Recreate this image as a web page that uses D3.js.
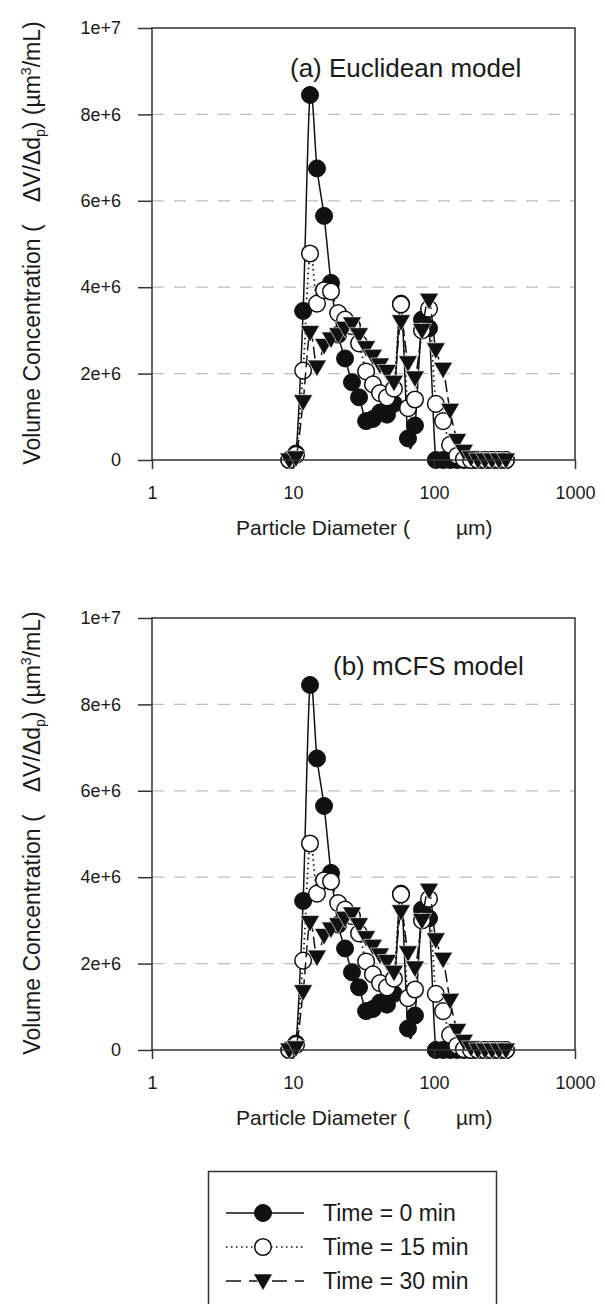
<!DOCTYPE html>
<html><head><meta charset="utf-8">
<script src="https://cdn.jsdelivr.net/npm/d3@7"></script>
<style>
body{margin:0;background:#fff}
svg{display:block}
text{font-family:"Liberation Sans",Arial,Helvetica,sans-serif;fill:#1a1a1a}
</style>
</head><body>
<svg id="c" width="605" height="1304"></svg>
<script>
// Particle diameter bins (µm)
const diameters = [9.4, 10.5, 11.8, 13.2, 14.8, 16.6, 18.6, 20.9, 23.4, 26.2, 29.4, 33.0, 36.9, 41.4, 46.4, 52.0, 58.3, 65.4, 73.3, 82.2, 92.2, 103, 116, 130, 146, 163, 183, 205, 230, 258, 289, 324];
// Volume concentration (µm^3/mL)
const time0  = [0, 0.15e6, 3.45e6, 8.45e6, 6.75e6, 5.65e6, 4.1e6, 2.9e6, 2.35e6, 1.8e6, 1.45e6, 0.9e6, 0.95e6, 1.1e6, 1.05e6, 1.3e6, 3.62e6, 0.5e6, 0.8e6, 3.25e6, 3.05e6, 0, 0, 0, 0, 0, 0, 0, 0, 0, 0, 0];
const time15 = [0, 0.12e6, 2.07e6, 4.78e6, 3.62e6, 3.93e6, 3.9e6, 3.4e6, 3.25e6, 3.1e6, 2.7e6, 2.05e6, 1.75e6, 1.55e6, 1.45e6, 1.65e6, 3.6e6, 1.2e6, 1.4e6, 3.0e6, 3.5e6, 1.3e6, 0.9e6, 0.35e6, 0.1e6, 0.02e6, 0, 0, 0, 0, 0, 0];
const time30 = [0, 0.05e6, 1.35e6, 2.95e6, 2.15e6, 2.65e6, 2.8e6, 2.9e6, 3.05e6, 3.15e6, 2.9e6, 2.6e6, 2.4e6, 2.2e6, 2.05e6, 1.8e6, 3.2e6, 2.25e6, 1.9e6, 3.0e6, 3.7e6, 2.55e6, 2.1e6, 1.15e6, 0.45e6, 0.2e6, 0.05e6, 0, 0, 0, 0, 0];
const xTicks = [1, 10, 100, 1000];
const yTicks = [0, 2e6, 4e6, 6e6, 8e6, 1e7];
const gridTicks = [2e6, 4e6, 6e6, 8e6];
const panelTitles = ["(a) Euclidean model", "(b) mCFS model"];
const legendLabels = ["Time = 0 min", "Time = 15 min", "Time = 30 min"];

const seriesList = [
  {values: time0,  marker: "filled",   dash: null},
  {values: time15, marker: "open",     dash: "1.5,3.5"},
  {values: time30, marker: "triangle", dash: "12,5"}
];

const svg = d3.select("#c");
const W = {left: 152, right: 575};
const panels = [
  {top: 28, bottom: 460, titleX: 290, titleY: 77},
  {top: 618, bottom: 1050, titleX: 333, titleY: 675}
];

const x = d3.scaleLog().domain([1, 1000]).range([W.left, W.right]);
const triPath = "M-9.5,-7 L9.5,-7 L0,9.5 Z";

function drawMarker(g, type, cx, cy) {
  if (type === "filled") {
    g.append("circle").attr("cx", cx).attr("cy", cy).attr("r", 8.5)
      .attr("fill", "#111").attr("stroke", "#111").attr("stroke-width", 1);
  } else if (type === "open") {
    g.append("circle").attr("cx", cx).attr("cy", cy).attr("r", 8.3)
      .attr("fill", "#fff").attr("stroke", "#111").attr("stroke-width", 1.5);
  } else {
    g.append("path").attr("d", triPath).attr("transform", `translate(${cx},${cy})`)
      .attr("fill", "#111").attr("stroke", "#fff").attr("stroke-width", 0.6);
  }
}

panels.forEach((p, pi) => {
  const y = d3.scaleLinear().domain([0, 1e7]).range([p.bottom, p.top]);
  const g = svg.append("g");

  // grid
  g.selectAll(".grid").data(gridTicks).enter().append("line")
    .attr("x1", W.left).attr("x2", W.right)
    .attr("y1", d => y(d)).attr("y2", d => y(d))
    .attr("stroke", "#c4bcb6").attr("stroke-width", 1.3).attr("stroke-dasharray", "12,10");

  // clip
  const clipId = "clip" + pi;
  svg.append("clipPath").attr("id", clipId).append("rect")
    .attr("x", W.left).attr("y", p.top).attr("width", W.right - W.left).attr("height", p.bottom - p.top);

  const line = d3.line().x(d => x(d[0])).y(d => y(d[1])).curve(d3.curveCardinal.tension(0));

  seriesList.forEach(s => {
    const pts = diameters.map((d, i) => [d, s.values[i]]);
    g.append("path").attr("d", line(pts)).attr("fill", "none")
      .attr("stroke", "#111").attr("stroke-width", s.marker === "open" ? 1.8 : 1.5)
      .attr("stroke-dasharray", s.dash).attr("clip-path", `url(#${clipId})`);
    const mg = g.append("g");
    pts.forEach(pt => drawMarker(mg, s.marker, x(pt[0]), y(pt[1])));
  });

  // frame
  g.append("rect").attr("x", W.left).attr("y", p.top).attr("width", W.right - W.left)
    .attr("height", p.bottom - p.top).attr("fill", "none").attr("stroke", "#333").attr("stroke-width", 1.5);

  // y axis
  const ya = g.append("g").attr("transform", `translate(${W.left},0)`)
    .call(d3.axisLeft(y).tickValues(yTicks).tickSize(14).tickPadding(17)
      .tickFormat(v => v === 0 ? "0" : v.toExponential()));
  ya.select(".domain").remove();
  ya.selectAll("line").attr("stroke", "#333").attr("stroke-width", 1.5);
  ya.selectAll("text").attr("font-size", 18).attr("fill", "#1a1a1a")
    .attr("font-family", '"Liberation Sans",Arial,sans-serif');

  // x axis
  const xa = g.append("g").attr("transform", `translate(0,${p.bottom})`)
    .call(d3.axisBottom(x).tickValues(xTicks).tickSize(9).tickPadding(17).tickFormat(d3.format("d")));
  xa.select(".domain").remove();
  xa.selectAll("line").attr("stroke", "#333").attr("stroke-width", 1.5);
  xa.selectAll("text").attr("font-size", 18).attr("fill", "#1a1a1a")
    .attr("font-family", '"Liberation Sans",Arial,sans-serif');

  // title
  g.append("text").attr("x", p.titleX).attr("y", p.titleY).attr("font-size", 26).text(panelTitles[pi]);

  // x label
  const xl = g.append("text").attr("x", 236).attr("y", p.bottom + 75).attr("font-size", 21);
  xl.append("tspan").text("Particle Diameter (");
  xl.append("tspan").attr("dx", 46).text("µm)");

  // y label
  const cy = (p.top + p.bottom) / 2 - 1;
  const yl = g.append("text").attr("transform", `translate(40,${cy}) rotate(-90)`)
    .attr("text-anchor", "middle").attr("font-size", 23);
  yl.append("tspan").text("Volume Concentration (");
  yl.append("tspan").attr("dx", 22).text("ΔV/Δd");
  yl.append("tspan").attr("font-size", 14).attr("dy", 5).text("p");
  yl.append("tspan").attr("dy", -5).text(") (µm");
  yl.append("tspan").attr("font-size", 14).attr("dy", -9).text("3");
  yl.append("tspan").attr("dy", 9).text("/mL)");
});

// legend
const lg = svg.append("g");
lg.append("rect").attr("x", 208.5).attr("y", 1171.5).attr("width", 288).attr("height", 150)
  .attr("fill", "#fff").attr("stroke", "#333").attr("stroke-width", 1.5);
const legendY = d3.scaleBand().domain(legendLabels).range([1196, 1298]);
seriesList.forEach((s, i) => {
  const yy = legendY(legendLabels[i]) + legendY.bandwidth() / 2;
  lg.append("line").attr("x1", 226).attr("x2", 304).attr("y1", yy).attr("y2", yy)
    .attr("stroke", "#111").attr("stroke-width", 1.5).attr("stroke-dasharray", s.marker === "triangle" ? "15,8" : s.dash);
  drawMarker(lg, s.marker, 263, yy);
  lg.append("text").attr("x", 323).attr("y", yy + 8).attr("font-size", 23).text(legendLabels[i]);
});
</script>
</body></html>
